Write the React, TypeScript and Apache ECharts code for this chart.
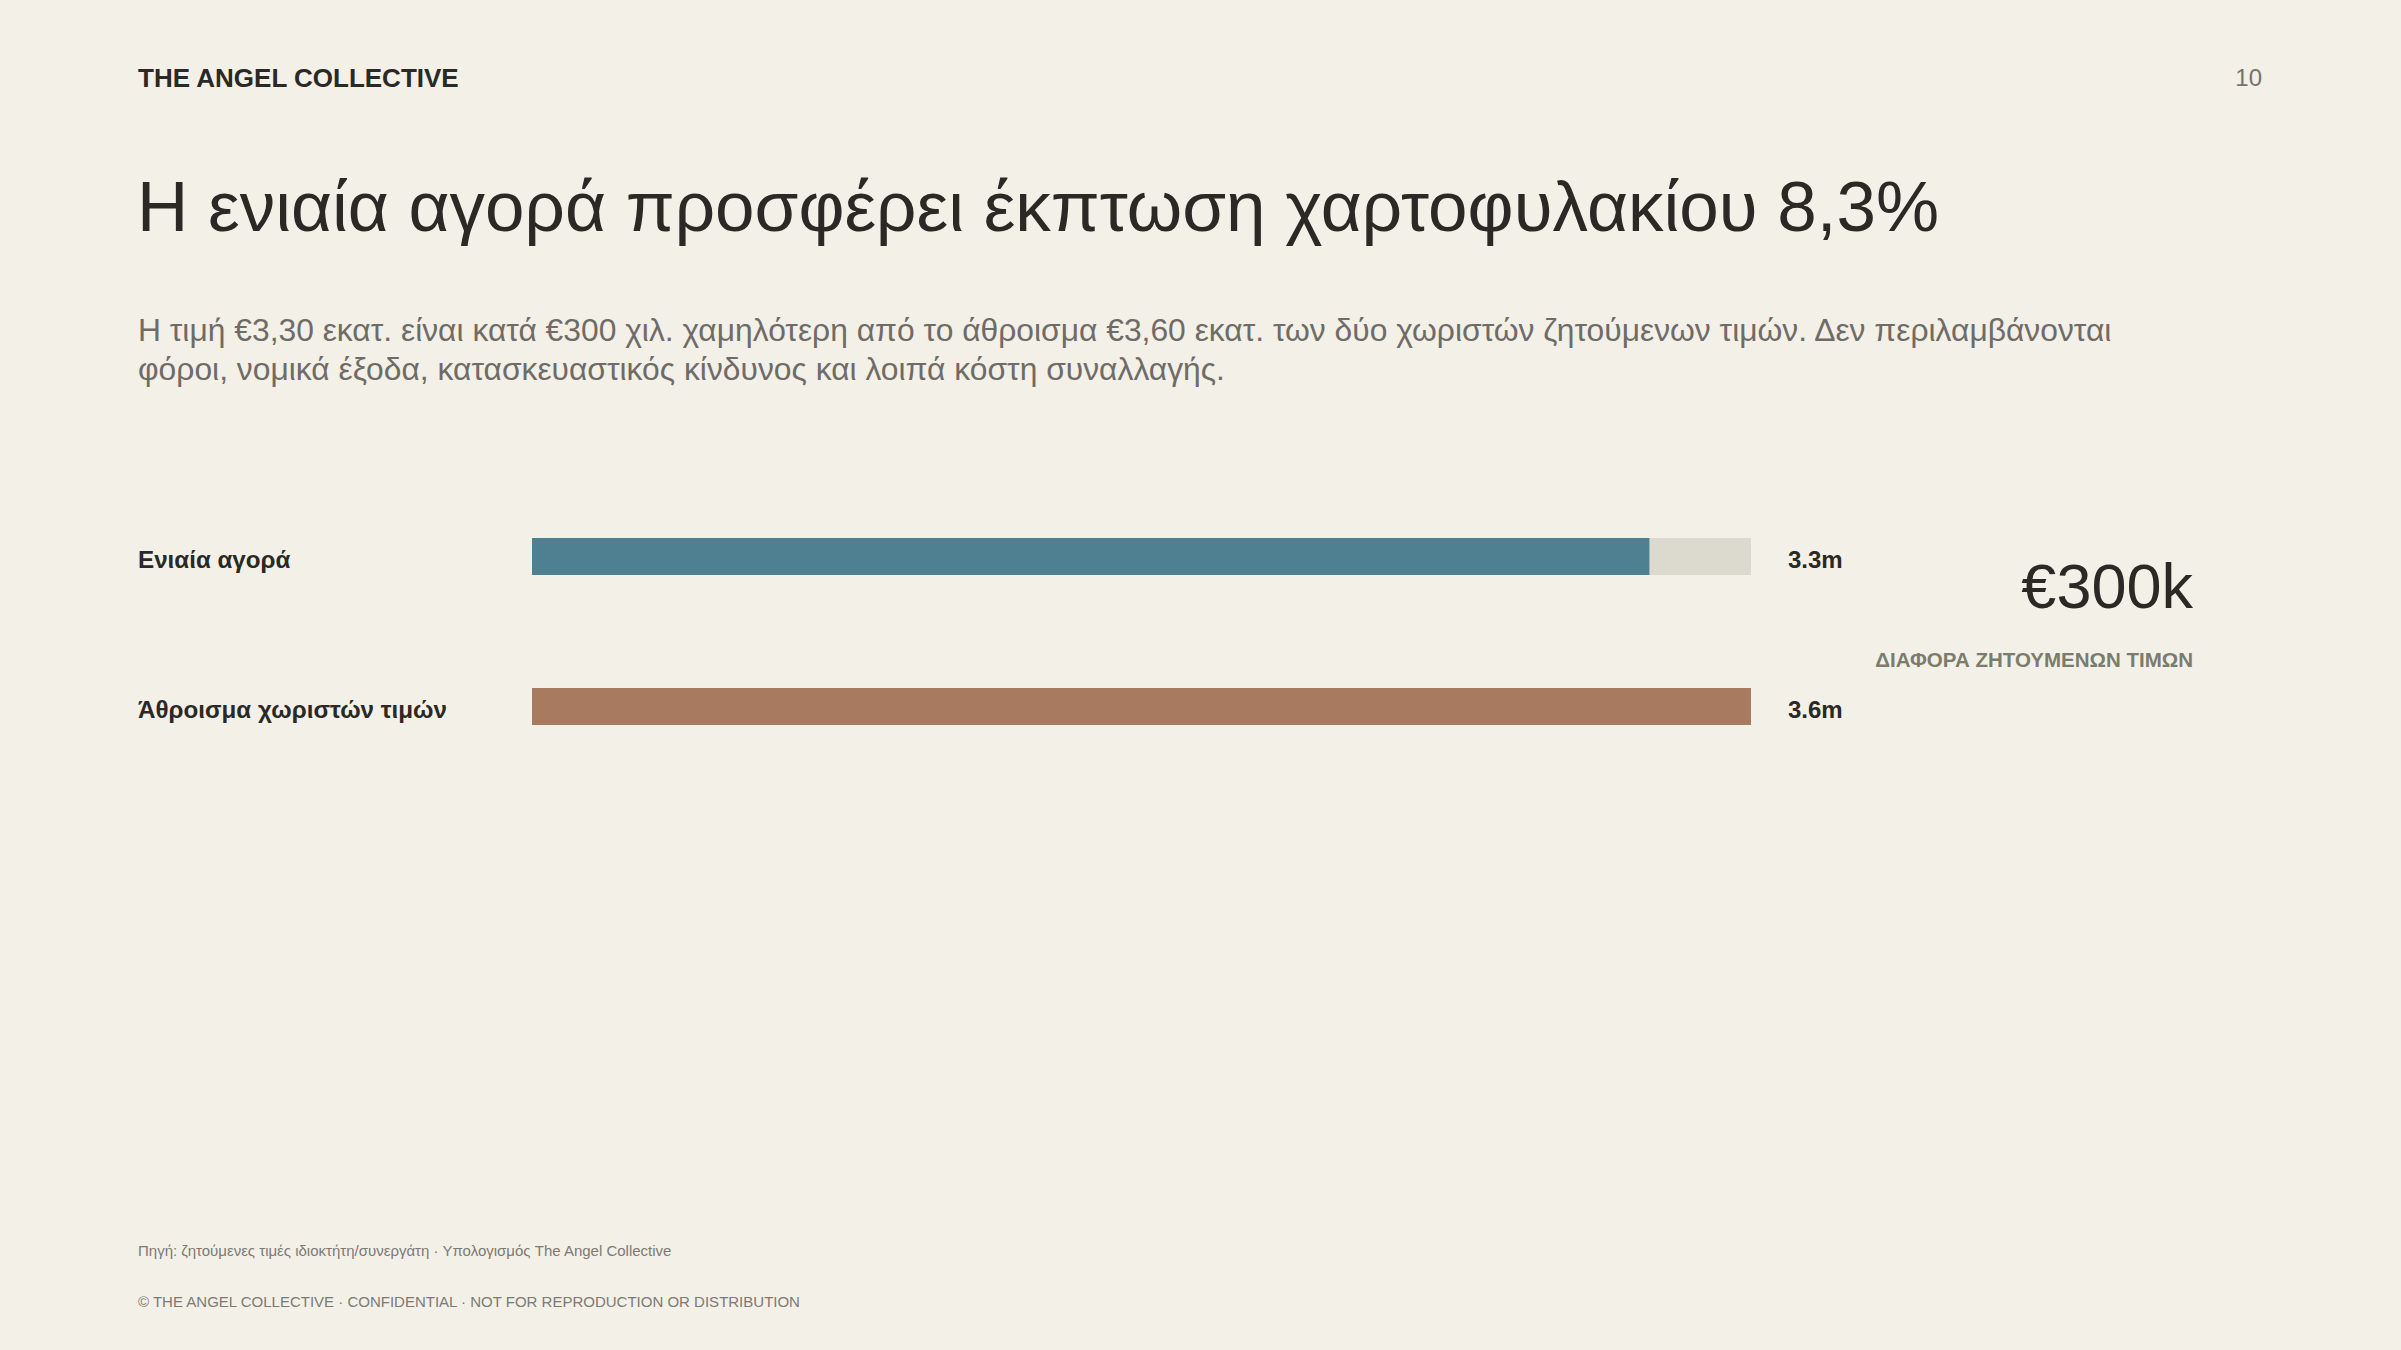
import { useRef, useEffect } from 'react'
import * as echarts from 'echarts'

const categories = ['Ενιαία αγορά', 'Άθροισμα χωριστών τιμών']
const values = [3.3, 3.6]
const barColors = ['#4f8091', '#a87a5f']
const valueLabels = values.map(v => `${v.toFixed(1)}m`)

const FONT = '"Liberation Sans", Arial, sans-serif'
const INK = '#2a2925'
const MUTED = '#76726c'

export default function App() {
  const chartRef = useRef<HTMLDivElement>(null)

  useEffect(() => {
    document.body.style.margin = '0'
    if (!chartRef.current) return
    const chart = echarts.init(chartRef.current, null, { renderer: 'svg' })

    const txt = (x: number, y: number, text: string, size: number, color: string, extra: any = {}) => ({
      type: 'text',
      x,
      y,
      style: {
        text,
        fontFamily: FONT,
        fontSize: size,
        fill: color,
        align: 'left',
        verticalAlign: 'middle',
        ...extra,
      },
    })

    chart.setOption({
      animation: false,
      backgroundColor: '#f3f0e8',
      grid: { left: 532, right: 650, top: 481.5, height: 300 },
      xAxis: {
        type: 'value',
        min: 0,
        max: Math.max(...values),
        show: false,
      },
      yAxis: [
        {
          type: 'category',
          data: categories,
          inverse: true,
          axisLine: { show: false },
          axisTick: { show: false },
          axisLabel: {
            align: 'left',
            verticalAlign: 'top',
            margin: 394,
            fontFamily: FONT,
            fontSize: 24.2,
            lineHeight: 24,
            fontWeight: 'bold',
            color: INK,
            padding: [-9, 0, 0, 0],
          },
        },
        {
          type: 'category',
          data: valueLabels,
          inverse: true,
          position: 'right',
          axisLine: { show: false },
          axisTick: { show: false },
          axisLabel: {
            align: 'left',
            verticalAlign: 'top',
            margin: 37,
            fontFamily: FONT,
            fontSize: 24,
            lineHeight: 24,
            fontWeight: 'bold',
            color: INK,
            padding: [-9, 0, 0, 0],
          },
        },
      ],
      series: [
        {
          type: 'bar',
          yAxisIndex: 0,
          barWidth: 37,
          showBackground: true,
          backgroundStyle: { color: '#dcd9cf' },
          data: values.map((v, i) => ({ value: v, itemStyle: { color: barColors[i] } })),
        },
      ],
      graphic: [
        txt(138, 78, 'THE ANGEL COLLECTIVE', 26, INK, { fontWeight: 'bold' }),
        txt(2262, 77, '10', 24, MUTED, { align: 'right' }),
        txt(137, 206, 'Η ενιαία αγορά προσφέρει έκπτωση χαρτοφυλακίου 8,3%', 71, INK),
        txt(
          138,
          349,
          'Η τιμή €3,30 εκατ. είναι κατά €300 χιλ. χαμηλότερη από το άθροισμα €3,60 εκατ. των δύο χωριστών ζητούμενων τιμών. Δεν περιλαμβάνονται\nφόροι, νομικά έξοδα, κατασκευαστικός κίνδυνος και λοιπά κόστη συναλλαγής.',
          31.8,
          '#6f6b66',
          { lineHeight: 39 }
        ),
        txt(2193, 586, '€300k', 63, INK, { align: 'right' }),
        txt(2193, 659, 'ΔΙΑΦΟΡΑ ΖΗΤΟΥΜΕΝΩΝ ΤΙΜΩΝ', 20.5, '#7a7c6d', { align: 'right', fontWeight: 'bold' }),
        txt(138, 1250, 'Πηγή: ζητούμενες τιμές ιδιοκτήτη/συνεργάτη · Υπολογισμός The Angel Collective', 15, '#7d7973'),
        txt(138, 1301, '© THE ANGEL COLLECTIVE · CONFIDENTIAL · NOT FOR REPRODUCTION OR DISTRIBUTION', 15, '#7d7973'),
      ],
    })

    return () => {
      chart.dispose()
    }
  }, [])

  return <div ref={chartRef} style={{ width: 2401, height: 1350 }} />
}
